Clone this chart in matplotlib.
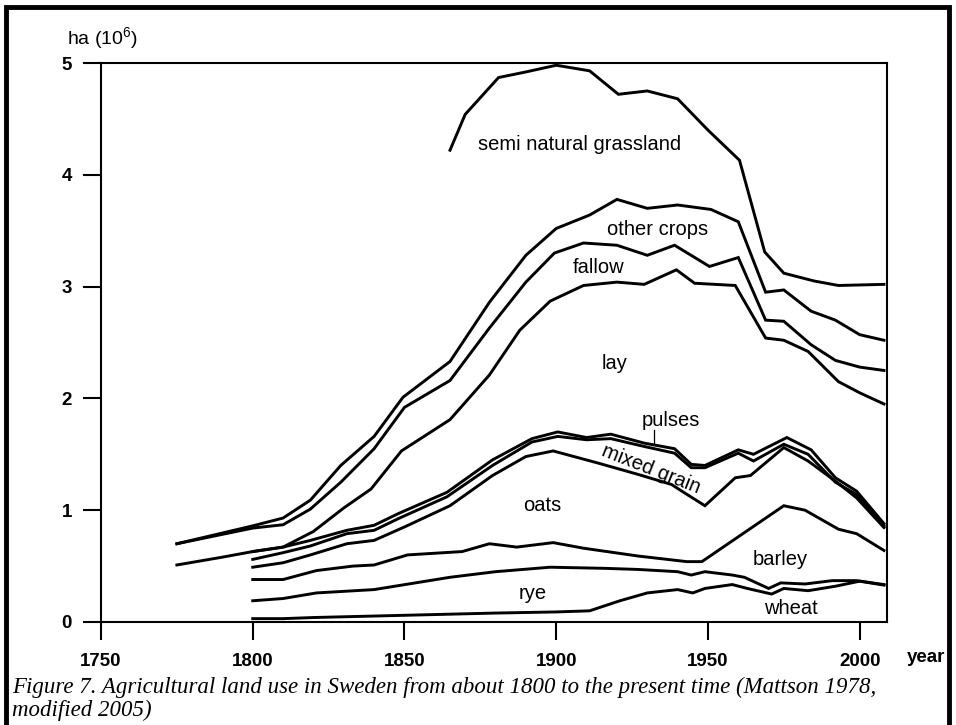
import matplotlib
matplotlib.use("Agg")
import matplotlib.pyplot as plt
from matplotlib.lines import Line2D

plt.rcParams['font.family'] = ['Liberation Sans', 'DejaVu Sans']
plt.rcParams['mathtext.default'] = 'regular'

# ---- data: cumulative upper boundary of each land-use band (10^6 ha) ----
wheat_years = [1800, 1810, 1820, 1850, 1880, 1900, 1911, 1921, 1930, 1940, 1945, 1949, 1958, 1963, 1971, 1975, 1983, 1992, 2000, 2008]
wheat_top   = [0.03, 0.03, 0.04, 0.06, 0.08, 0.09, 0.10, 0.19, 0.26, 0.29, 0.26, 0.30, 0.335, 0.30, 0.25, 0.30, 0.28, 0.32, 0.365, 0.33]

rye_years = [1800, 1810, 1821, 1840, 1865, 1880, 1898, 1916, 1927, 1940, 1944.5, 1949, 1958, 1962, 1970, 1974, 1982, 1991, 1999, 2008]
rye_top   = [0.19, 0.21, 0.26, 0.29, 0.40, 0.45, 0.49, 0.48, 0.47, 0.45, 0.42, 0.45, 0.42, 0.40, 0.30, 0.35, 0.34, 0.37, 0.37, 0.335]

barley_years = [1800, 1810, 1821, 1833, 1840, 1851, 1869, 1878, 1887, 1899, 1909, 1927, 1943, 1948, 1975, 1982, 1993, 1999, 2008]
barley_top   = [0.38, 0.38, 0.46, 0.50, 0.51, 0.60, 0.63, 0.70, 0.67, 0.71, 0.66, 0.59, 0.54, 0.54, 1.04, 1.00, 0.83, 0.79, 0.64]

oats_years = [1800, 1810, 1819, 1831, 1840, 1850, 1865, 1879, 1890, 1899, 1914, 1927, 1938, 1942, 1949, 1959, 1964, 1975, 1983, 1992, 1999, 2008]
oats_top   = [0.49, 0.53, 0.60, 0.70, 0.73, 0.85, 1.04, 1.31, 1.48, 1.53, 1.42, 1.32, 1.23, 1.16, 1.04, 1.29, 1.31, 1.56, 1.44, 1.26, 1.11, 0.845]

mixed_years = [1800, 1810, 1819, 1831, 1840, 1848, 1864, 1879, 1892, 1900.5, 1910, 1918, 1929, 1939, 1944.5, 1949, 1960, 1965, 1975, 1983, 1992, 1999, 2008]
mixed_top   = [0.56, 0.62, 0.68, 0.79, 0.82, 0.925, 1.12, 1.40, 1.61, 1.66, 1.63, 1.64, 1.57, 1.51, 1.38, 1.38, 1.51, 1.44, 1.59, 1.50, 1.25, 1.14, 0.86]

pulses_years = [1800, 1810, 1819, 1831, 1840, 1848, 1864, 1879, 1892, 1900.5, 1910, 1918, 1929, 1939, 1944.5, 1949, 1960, 1965, 1976, 1984, 1992, 1999, 2008]
pulses_top   = [0.63, 0.67, 0.73, 0.82, 0.865, 0.97, 1.16, 1.45, 1.64, 1.70, 1.65, 1.68, 1.60, 1.55, 1.41, 1.40, 1.54, 1.50, 1.65, 1.54, 1.29, 1.17, 0.88]

lay_years = [1775, 1790, 1800, 1810, 1820, 1830, 1839, 1849, 1865, 1878, 1888, 1898, 1909, 1920, 1929, 1939.6, 1945.6, 1959, 1969, 1975, 1983, 1993, 2000, 2008]
lay_top   = [0.51, 0.58, 0.63, 0.67, 0.81, 1.02, 1.19, 1.53, 1.81, 2.21, 2.61, 2.87, 3.01, 3.04, 3.02, 3.15, 3.03, 3.01, 2.54, 2.52, 2.42, 2.15, 2.05, 1.95]

fallow_years = [1775, 1800, 1810, 1819, 1829, 1840, 1850, 1865, 1878, 1890, 1899.4, 1909, 1920, 1930, 1939, 1950.5, 1960, 1969, 1975, 1984, 1992, 2000, 2008]
fallow_top   = [0.70, 0.84, 0.87, 1.01, 1.25, 1.55, 1.92, 2.16, 2.63, 3.04, 3.30, 3.39, 3.37, 3.28, 3.37, 3.18, 3.26, 2.70, 2.69, 2.48, 2.34, 2.28, 2.25]

other_years = [1775, 1800, 1810, 1819, 1829, 1840, 1849.5, 1865, 1878, 1890, 1900, 1911, 1920, 1930, 1940, 1951, 1960, 1969, 1975, 1984, 1992, 2000, 2008]
other_top   = [0.70, 0.86, 0.93, 1.09, 1.40, 1.66, 2.01, 2.33, 2.86, 3.28, 3.52, 3.64, 3.78, 3.70, 3.73, 3.69, 3.58, 2.95, 2.97, 2.78, 2.70, 2.57, 2.52]

grass_years = [1865, 1870, 1881, 1890, 1900, 1911, 1920.5, 1930, 1940, 1950, 1960.4, 1968.7, 1975, 1985, 1993, 2008]
grass_top   = [4.22, 4.54, 4.87, 4.92, 4.98, 4.93, 4.72, 4.75, 4.68, 4.40, 4.13, 3.31, 3.12, 3.05, 3.01, 3.02]

x_ticks = [1750, 1800, 1850, 1900, 1950, 2000]
y_ticks = [0, 1, 2, 3, 4, 5]

band_labels = ["semi natural grassland", "other crops", "fallow", "lay", "pulses",
               "mixed grain", "oats", "barley", "rye", "wheat"]
label_years = [1907.7, 1933.5, 1914, 1919.2, 1937.9, 1931.3, 1895.4, 1973.8, 1892.3, 1977.5]
label_vals  = [4.27, 3.51, 3.17, 2.31, 1.80, 1.37, 1.045, 0.56, 0.254, 0.12]
label_rot   = [0, 0, 0, 0, 0, -21.5, 0, 0, 0, 0]

# ---- figure ----
W, H = 956, 725
fig = plt.figure(figsize=(W / 100, H / 100), dpi=100)
fig.patch.set_facecolor('white')

left, right, top, bottom = 101, 887, 63, 622
ax = fig.add_axes([left / W, 1 - bottom / H, (right - left) / W, (bottom - top) / H])

series = [(wheat_years, wheat_top), (rye_years, rye_top), (barley_years, barley_top),
          (oats_years, oats_top), (mixed_years, mixed_top), (pulses_years, pulses_top),
          (lay_years, lay_top), (fallow_years, fallow_top), (other_years, other_top),
          (grass_years, grass_top)]
for xs, ys in series:
    ax.plot(xs, ys, color='black', lw=2.1, solid_joinstyle='miter', clip_on=False)

ax.set_xlim(1750, 2009)
ax.set_ylim(0, 5)
ax.set_xticks(x_ticks)
ax.set_xticklabels([str(t) for t in x_ticks])
ax.set_yticks(y_ticks)
ax.set_yticklabels([str(t) for t in y_ticks])
ax.tick_params(axis='both', direction='out', length=13, width=1.5, labelsize=13.5, colors='black')
ax.tick_params(axis='x', pad=9)
ax.tick_params(axis='y', pad=8)
for lab in ax.get_xticklabels() + ax.get_yticklabels():
    lab.set_fontweight('bold')
for s in ax.spines.values():
    s.set_linewidth(1.5)
    s.set_color('black')

for txt, xv, yv, rot in zip(band_labels, label_years, label_vals, label_rot):
    ax.text(xv, yv, txt, ha='center', va='center', fontsize=14.5, rotation=rot,
            rotation_mode='anchor')
# pointer for "pulses"
ax.plot([1932.2, 1932.2], [1.72, 1.60], color='black', lw=0.9)

fig.text(67 / W, 1 - 38 / H, "ha (10$^{6}$)", fontsize=14, ha='left', va='center')
fig.text(907 / W, 1 - 657 / H, "year", fontsize=13.5, fontweight='bold', ha='left', va='center')

fig.text(12 / W, 1 - 687 / H,
         "Figure 7. Agricultural land use in Sweden from about 1800 to the present time (Mattson 1978,",
         family='Liberation Serif', style='italic', fontsize=16.5, ha='left', va='center')
fig.text(12 / W, 1 - 710 / H, "modified 2005)",
         family='Liberation Serif', style='italic', fontsize=16.5, ha='left', va='center')

# outer frame of the figure panel (bottom edge cut off)
fx0, fx1, fy1 = 6 / W, 949 / W, 1 - 7 / H
fig.add_artist(Line2D([fx0, fx0, fx1, fx1], [0, fy1, fy1, 0], transform=fig.transFigure,
                      color='black', lw=3.5, solid_joinstyle='miter'))

fig.savefig("out.png", dpi=100, facecolor='white')
